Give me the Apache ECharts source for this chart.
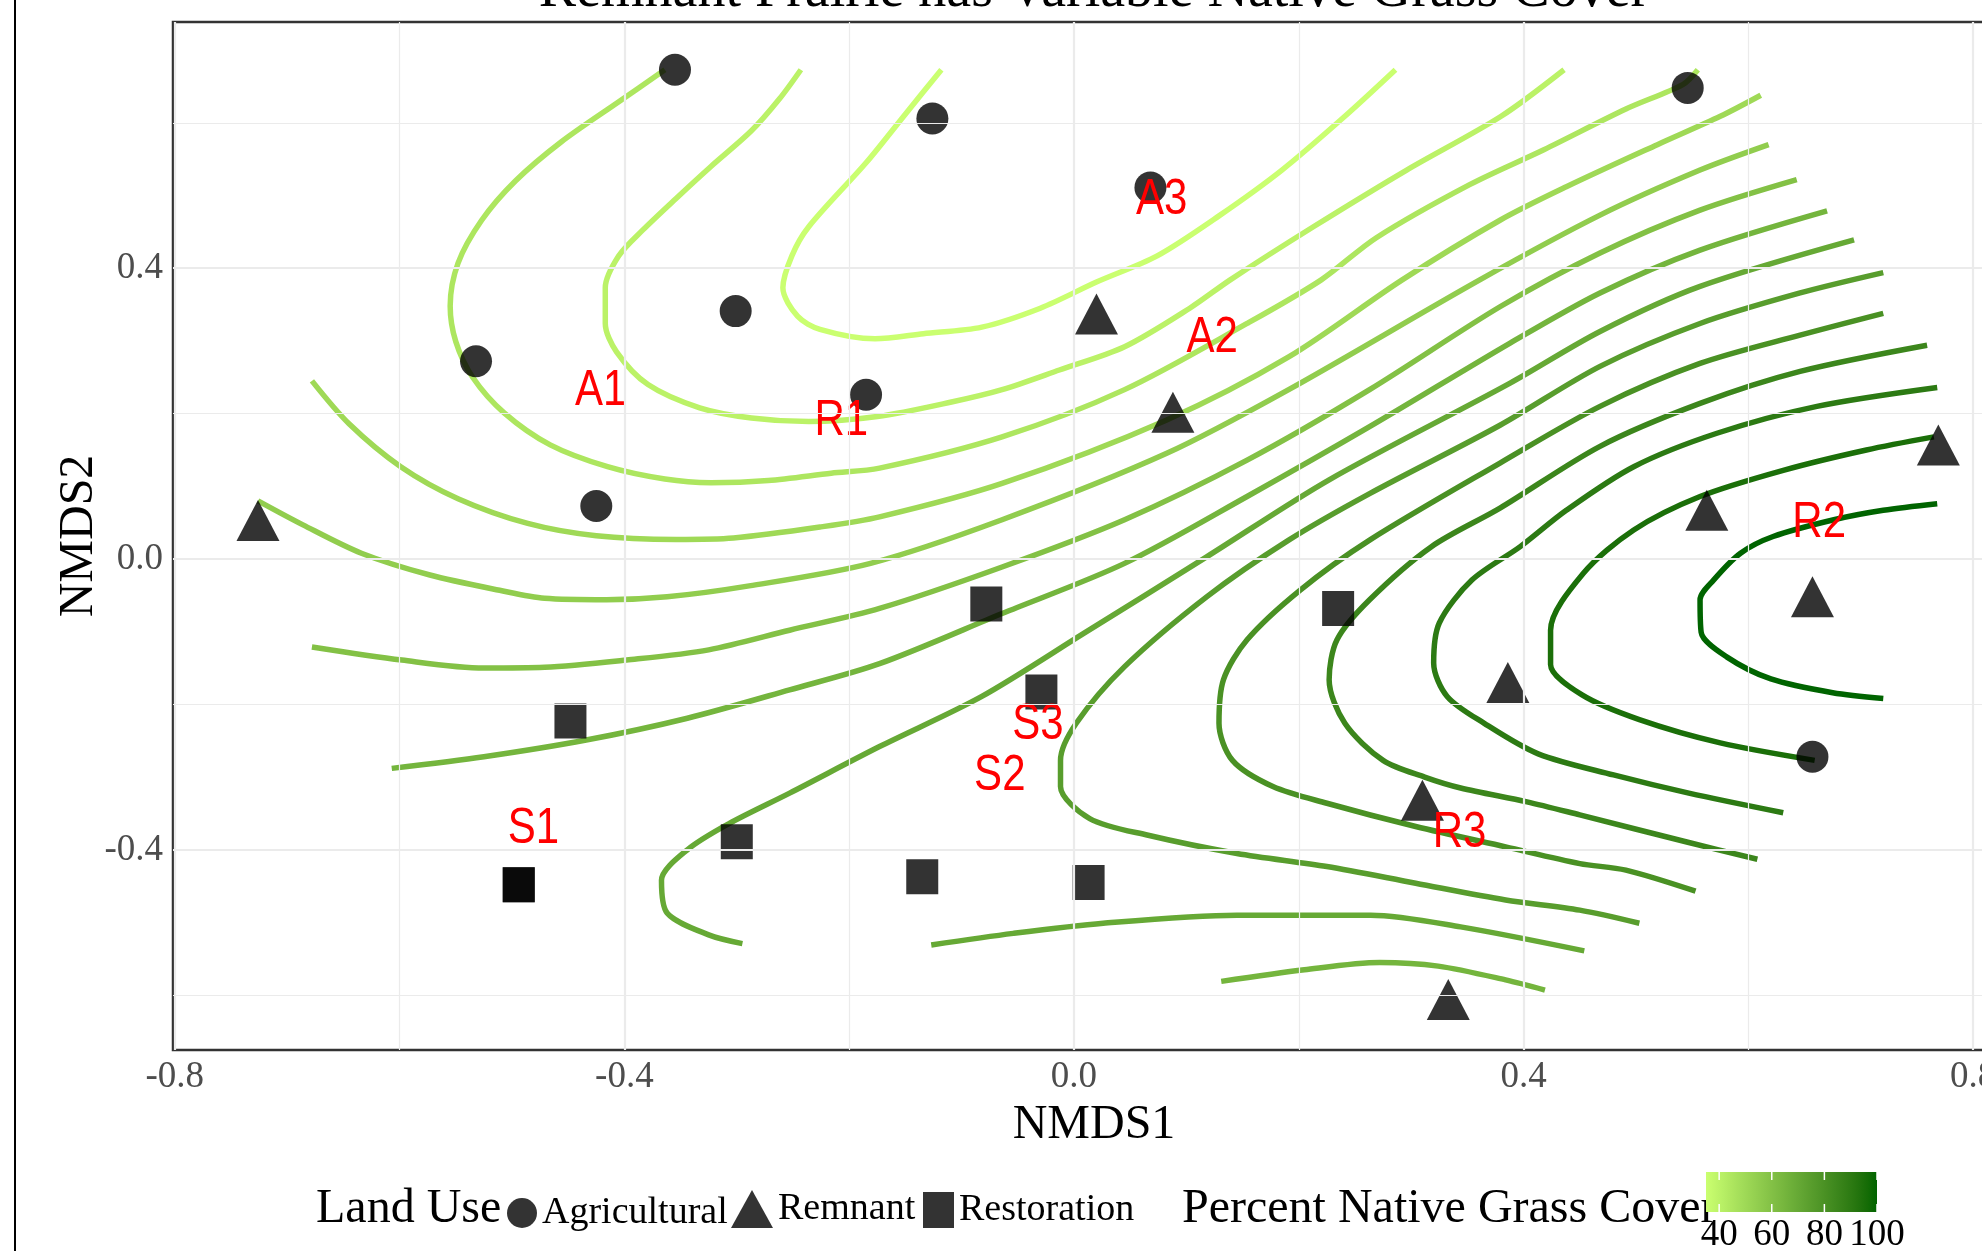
<!DOCTYPE html>
<html>
<head>
<meta charset="utf-8">
<script src="https://cdn.jsdelivr.net/npm/echarts@6/dist/echarts.min.js"></script>
<style>
html, body { margin: 0; padding: 0; background: #ffffff; }
#chart { width: 1982px; height: 1251px; }
</style>
</head>
<body>
<div id="chart"></div>
<script>
// ---- NMDS ordination of plots, with fitted native-grass-cover contours ----

// Axis ticks (major ticks are labelled, minor ones only carry grid lines)
const xMajorTicks = [-0.8, -0.4, 0.0, 0.4, 0.8];
const xMinorTicks = [-0.6, -0.2, 0.2, 0.6];
const yMajorTicks = [-0.4, 0.0, 0.4];
const yMinorTicks = [-0.6, -0.2, 0.2, 0.6];

// Plot scores by land use [NMDS1, NMDS2]
const agriculturalPts = [
  [-0.355, 0.673], [-0.126, 0.606], [0.068, 0.511], [-0.301, 0.341], [-0.532, 0.272],
  [-0.185, 0.226], [-0.425, 0.073], [0.546, 0.648], [0.657, -0.272]
];
const remnantPts = [
  [-0.726, 0.053], [0.020, 0.337], [0.088, 0.202], [0.769, 0.157], [0.563, 0.067],
  [0.657, -0.052], [0.386, -0.170], [0.310, -0.332], [0.333, -0.606]
];
const restorationPts = [
  [-0.078, -0.062], [-0.029, -0.183], [0.235, -0.068], [-0.448, -0.223], [-0.300, -0.389],
  [-0.494, -0.448], [-0.494, -0.448], [-0.135, -0.437], [0.013, -0.445]
];

// Site labels
const siteNames = ['A1', 'R1', 'A3', 'A2', 'R2', 'S3', 'S2', 'S1', 'R3'];
const siteX = [-0.421, -0.207, 0.078, 0.123, 0.663, -0.032, -0.066, -0.481, 0.343];
const siteY = [0.231, 0.189, 0.493, 0.304, 0.049, -0.228, -0.299, -0.372, -0.377];

// Contour paths of percent native grass cover (ordisurf fit)
const cover35 = [[-0.118,0.673],[-0.149,0.614],[-0.185,0.545],[-0.236,0.457],[-0.251,0.417],[-0.259,0.373],[-0.246,0.334],[-0.226,0.316],[-0.177,0.303],[-0.134,0.310],[-0.082,0.319],[-0.030,0.345],[0.020,0.381],[0.074,0.417],[0.129,0.472],[0.185,0.535],[0.241,0.609],[0.286,0.673]];
const cover40 = [[-0.243,0.673],[-0.262,0.633],[-0.287,0.589],[-0.323,0.540],[-0.354,0.496],[-0.384,0.452],[-0.405,0.417],[-0.417,0.373],[-0.417,0.324],[-0.407,0.285],[-0.379,0.240],[-0.333,0.208],[-0.287,0.194],[-0.236,0.189],[-0.175,0.196],[-0.109,0.216],[-0.064,0.233],[-0.013,0.260],[0.045,0.292],[0.103,0.345],[0.139,0.384],[0.213,0.457],[0.296,0.535],[0.380,0.609],[0.436,0.673]];
const cover45 = [[-0.364,0.673],[-0.405,0.629],[-0.456,0.574],[-0.497,0.520],[-0.527,0.466],[-0.548,0.407],[-0.555,0.348],[-0.550,0.299],[-0.535,0.250],[-0.507,0.201],[-0.466,0.157],[-0.415,0.127],[-0.364,0.110],[-0.323,0.105],[-0.272,0.108],[-0.216,0.118],[-0.173,0.125],[-0.064,0.168],[0.045,0.233],[0.154,0.324],[0.220,0.384],[0.269,0.442],[0.352,0.515],[0.418,0.563],[0.491,0.619],[0.542,0.653],[0.555,0.673]];
const cover50 = [[-0.678,0.245],[-0.645,0.186],[-0.599,0.127],[-0.548,0.083],[-0.486,0.049],[-0.425,0.032],[-0.354,0.027],[-0.303,0.029],[-0.226,0.044],[-0.173,0.058],[-0.064,0.104],[0.082,0.191],[0.191,0.278],[0.292,0.384],[0.379,0.466],[0.438,0.512],[0.519,0.570],[0.575,0.609],[0.611,0.638]];
const cover55 = [[-0.726,0.080],[-0.686,0.047],[-0.634,0.008],[-0.573,-0.022],[-0.511,-0.043],[-0.471,-0.054],[-0.416,-0.056],[-0.362,-0.052],[-0.289,-0.037],[-0.181,-0.006],[-0.064,0.054],[0.082,0.145],[0.191,0.233],[0.361,0.384],[0.468,0.473],[0.557,0.535],[0.618,0.570]];
const cover60 = [[-0.678,-0.121],[-0.598,-0.139],[-0.525,-0.150],[-0.471,-0.149],[-0.398,-0.139],[-0.325,-0.125],[-0.253,-0.098],[-0.173,-0.068],[-0.064,-0.011],[0.045,0.054],[0.154,0.136],[0.263,0.233],[0.379,0.347],[0.468,0.421],[0.557,0.480],[0.643,0.522]];
const cover65 = [[-0.607,-0.288],[-0.525,-0.272],[-0.434,-0.249],[-0.344,-0.219],[-0.253,-0.180],[-0.173,-0.144],[-0.064,-0.075],[0.045,-0.006],[0.154,0.086],[0.263,0.182],[0.388,0.297],[0.468,0.366],[0.557,0.425],[0.670,0.479]];
const cover70 = [[-0.295,-0.529],[-0.325,-0.517],[-0.362,-0.487],[-0.367,-0.442],[-0.344,-0.400],[-0.307,-0.364],[-0.253,-0.322],[-0.173,-0.258],[-0.082,-0.189],[0.009,-0.102],[0.118,0.003],[0.227,0.109],[0.388,0.242],[0.468,0.313],[0.557,0.375],[0.694,0.439]];
const cover75 = [[0.720,0.394],[0.646,0.366],[0.557,0.324],[0.468,0.265],[0.379,0.184],[0.263,0.090],[0.191,0.026],[0.118,-0.052],[0.045,-0.148],[0.002,-0.226],[-0.012,-0.277],[-0.012,-0.313],[0.014,-0.357],[0.066,-0.380],[0.145,-0.405],[0.225,-0.423],[0.304,-0.446],[0.384,-0.469],[0.450,-0.483],[0.503,-0.501]];
const cover80 = [[0.720,0.338],[0.646,0.308],[0.557,0.269],[0.468,0.210],[0.379,0.132],[0.263,0.026],[0.201,-0.043],[0.154,-0.111],[0.133,-0.166],[0.129,-0.226],[0.141,-0.277],[0.177,-0.313],[0.225,-0.336],[0.304,-0.368],[0.384,-0.396],[0.450,-0.419],[0.491,-0.428],[0.553,-0.457]];
const cover85 = [[0.759,0.294],[0.646,0.258],[0.557,0.214],[0.468,0.155],[0.379,0.070],[0.318,0.017],[0.263,-0.056],[0.234,-0.111],[0.227,-0.166],[0.241,-0.226],[0.275,-0.277],[0.312,-0.300],[0.344,-0.315],[0.403,-0.334],[0.450,-0.352],[0.547,-0.390],[0.608,-0.413]];
const cover90 = [[0.768,0.236],[0.661,0.210],[0.572,0.173],[0.498,0.127],[0.438,0.067],[0.397,0.017],[0.354,-0.029],[0.325,-0.088],[0.320,-0.143],[0.332,-0.189],[0.365,-0.226],[0.413,-0.268],[0.480,-0.297],[0.547,-0.322],[0.631,-0.349]];
const cover95 = [[0.765,0.168],[0.705,0.150],[0.631,0.122],[0.557,0.086],[0.498,0.040],[0.453,-0.020],[0.424,-0.098],[0.424,-0.145],[0.452,-0.187],[0.503,-0.221],[0.575,-0.253],[0.659,-0.277]];
const cover100 = [[0.768,0.076],[0.720,0.067],[0.676,0.054],[0.622,0.031],[0.593,0.008],[0.569,-0.029],[0.557,-0.056],[0.558,-0.101],[0.581,-0.135],[0.620,-0.165],[0.675,-0.184],[0.720,-0.192]];
// Lower arcs near the bottom remnant plot
const cover70Low = [[-0.127,-0.531],[-0.054,-0.515],[0.026,-0.501],[0.145,-0.490],[0.264,-0.490],[0.344,-0.506],[0.454,-0.539]];
const cover65Low = [[0.131,-0.581],[0.205,-0.565],[0.272,-0.555],[0.324,-0.560],[0.384,-0.579],[0.419,-0.593]];

const contourLevels = [35, 40, 45, 50, 55, 60, 65, 70, 75, 80, 85, 90, 95, 100, 70, 65];
const contourPaths = [cover35, cover40, cover45, cover50, cover55, cover60, cover65, cover70,
                      cover75, cover80, cover85, cover90, cover95, cover100, cover70Low, cover65Low];

// Colour scale limits and colorbar tick labels
const coverMin = 35, coverMax = 100;
const coverBarTicks = [40, 60, 80, 100];

// ---- colour ramp interpolated in CIELAB ----
const LOW_COLOR = '#CAFF70', HIGH_COLOR = '#006400';
function hexToRgb(h) { return [1, 3, 5].map(i => parseInt(h.substr(i, 2), 16)); }
function rgbToLab(rgb) {
  const lin = rgb.map(c => { c /= 255; return c <= 0.04045 ? c / 12.92 : Math.pow((c + 0.055) / 1.055, 2.4); });
  const X = (0.4124564 * lin[0] + 0.3575761 * lin[1] + 0.1804375 * lin[2]) / 0.95047;
  const Y = (0.2126729 * lin[0] + 0.7151522 * lin[1] + 0.0721750 * lin[2]);
  const Z = (0.0193339 * lin[0] + 0.1191920 * lin[1] + 0.9503041 * lin[2]) / 1.08883;
  const f = t => t > 0.008856 ? Math.cbrt(t) : 7.787 * t + 16 / 116;
  const fx = f(X), fy = f(Y), fz = f(Z);
  return [116 * fy - 16, 500 * (fx - fy), 200 * (fy - fz)];
}
function labToHex(lab) {
  const fy = (lab[0] + 16) / 116, fx = fy + lab[1] / 500, fz = fy - lab[2] / 200;
  const inv = t => t * t * t > 0.008856 ? t * t * t : (t - 16 / 116) / 7.787;
  const X = inv(fx) * 0.95047, Y = inv(fy), Z = inv(fz) * 1.08883;
  const r = 3.2404542 * X - 1.5371385 * Y - 0.4985314 * Z;
  const g = -0.9692660 * X + 1.8760108 * Y + 0.0415560 * Z;
  const b = 0.0556434 * X - 0.2040259 * Y + 1.0572252 * Z;
  const gam = c => { c = c <= 0.0031308 ? 12.92 * c : 1.055 * Math.pow(c, 1 / 2.4) - 0.055; return Math.round(Math.min(1, Math.max(0, c)) * 255); };
  return '#' + [r, g, b].map(c => gam(c).toString(16).padStart(2, '0')).join('');
}
const labLow = rgbToLab(hexToRgb(LOW_COLOR)), labHigh = rgbToLab(hexToRgb(HIGH_COLOR));
function coverColor(v) {
  const t = (v - coverMin) / (coverMax - coverMin);
  return labToHex(labLow.map((c, i) => c + (labHigh[i] - c) * t));
}

// ---- layout ----
const GRID_LEFT = 173, GRID_TOP = 22, GRID_W = 1842, GRID_H = 1028;
const X_MIN = -0.8016, X_MAX = 0.8372, Y_MIN = -0.6754, Y_MAX = 0.7387;
const SERIF = 'Liberation Serif';
const POINT_FILL = 'rgba(0,0,0,0.8)';

const chart = echarts.init(document.getElementById('chart'), null, { renderer: 'canvas' });

// Panel grid lines drawn as mark lines
const gridLineData = []
  .concat(xMajorTicks.map(v => ({ xAxis: v, lineStyle: { width: 2.2 } })))
  .concat(xMinorTicks.map(v => ({ xAxis: v, lineStyle: { width: 1.2 } })))
  .concat(yMajorTicks.map(v => ({ yAxis: v, lineStyle: { width: 2.2 } })))
  .concat(yMinorTicks.map(v => ({ yAxis: v, lineStyle: { width: 1.2 } })));

const contourSeries = contourPaths.map((path, i) => ({
  type: 'line',
  name: 'cover' + contourLevels[i],
  data: path,
  smooth: 0.3,
  showSymbol: false,
  symbol: 'none',
  silent: true,
  z: 2,
  lineStyle: { color: coverColor(contourLevels[i]), width: 5.5, cap: 'butt', join: 'round' }
}));

// Colorbar
const BAR_X = 1706, BAR_Y = 1172, BAR_W = 171, BAR_H = 40;
const barStops = [];
for (let k = 0; k <= 20; k++) {
  barStops.push({ offset: k / 20, color: coverColor(coverMin + (coverMax - coverMin) * k / 20) });
}
const barX = v => BAR_X + (v - coverMin) / (coverMax - coverMin) * BAR_W;
const barGraphics = [
  { type: 'rect', shape: { x: BAR_X, y: BAR_Y, width: BAR_W, height: BAR_H },
    style: { fill: { type: 'linear', x: 0, y: 0, x2: 1, y2: 0, colorStops: barStops } } }
];
coverBarTicks.forEach(v => {
  const x = barX(v);
  barGraphics.push({ type: 'line', shape: { x1: x, y1: BAR_Y, x2: x, y2: BAR_Y + 8 }, style: { stroke: '#ffffff', lineWidth: 1.5 } });
  barGraphics.push({ type: 'line', shape: { x1: x, y1: BAR_Y + BAR_H - 8, x2: x, y2: BAR_Y + BAR_H }, style: { stroke: '#ffffff', lineWidth: 1.5 } });
  barGraphics.push({ type: 'text', x: x, y: 1235,
    style: { text: String(v), font: '37px "' + SERIF + '"', fill: '#000', align: 'center', verticalAlign: 'middle' } });
});

const legendText = { fontFamily: SERIF, fontSize: 38, color: '#000000' };

const option = {
  animation: false,
  backgroundColor: '#ffffff',
  grid: {
    left: GRID_LEFT, top: GRID_TOP, width: GRID_W, height: GRID_H,
    outerBoundsMode: 'none', containLabel: false,
    show: true, borderColor: '#333333', borderWidth: 2.5, backgroundColor: 'transparent'
  },
  xAxis: {
    type: 'value', min: X_MIN, max: X_MAX,
    name: 'NMDS1', nameLocation: 'middle', nameGap: 47,
    nameTextStyle: { fontFamily: SERIF, fontSize: 48, color: '#000000' },
    axisLine: { show: false },
    axisTick: { show: true, customValues: xMajorTicks, length: 8, lineStyle: { color: '#333333', width: 2 } },
    axisLabel: { customValues: xMajorTicks, formatter: v => v.toFixed(1), margin: 9,
      fontFamily: SERIF, fontSize: 37, color: '#4D4D4D' },
    splitLine: { show: false }
  },
  yAxis: {
    type: 'value', min: Y_MIN, max: Y_MAX,
    axisLine: { show: false },
    axisTick: { show: true, customValues: yMajorTicks, length: 8, lineStyle: { color: '#333333', width: 2 } },
    axisLabel: { customValues: yMajorTicks, formatter: v => v.toFixed(1), margin: 10,
      fontFamily: SERIF, fontSize: 37, color: '#4D4D4D' },
    splitLine: { show: false }
  },
  legend: [
    { data: ['Agricultural'], left: 507, top: 1194, padding: 0, itemWidth: 30, itemHeight: 30,
      icon: 'circle', selectedMode: false, textStyle: legendText },
    { data: ['Remnant'], left: 731, top: 1190, padding: 0, itemWidth: 42, itemHeight: 38,
      icon: 'triangle', symbolKeepAspect: false, selectedMode: false, textStyle: legendText },
    { data: ['Restoration'], left: 923, top: 1191, padding: 0, itemWidth: 31, itemHeight: 36,
      icon: 'rect', symbolKeepAspect: false, selectedMode: false, textStyle: legendText }
  ],
  graphic: [
    { type: 'line', shape: { x1: 15, y1: 0, x2: 15, y2: 1251 }, style: { stroke: '#000000', lineWidth: 2 } },
    { type: 'text', x: 1094, y: -9,
      style: { text: 'Remnant Prairie has Variable Native Grass Cover', font: '56px "' + SERIF + '"',
        fill: '#000000', align: 'center', verticalAlign: 'middle' } },
    { type: 'text', x: 79, y: 536, rotation: Math.PI / 2,
      style: { text: 'NMDS2', font: '48px "' + SERIF + '"', fill: '#000000', align: 'center', verticalAlign: 'middle' } },
    { type: 'text', x: 316, y: 1209,
      style: { text: 'Land Use', font: '48px "' + SERIF + '"', fill: '#000000', align: 'left', verticalAlign: 'middle' } },
    { type: 'text', x: 1182, y: 1209,
      style: { text: 'Percent Native Grass Cover', font: '48px "' + SERIF + '"', fill: '#000000', align: 'left', verticalAlign: 'middle' } }
  ].concat(barGraphics),
  series: [
    {
      type: 'scatter', name: 'gridlines', data: [], silent: true, z: 1,
      markLine: { silent: true, symbol: 'none', label: { show: false }, animation: false,
        lineStyle: { color: '#EBEBEB', type: 'solid' }, data: gridLineData }
    }
  ].concat(contourSeries).concat([
    { type: 'scatter', name: 'Agricultural', data: agriculturalPts, symbol: 'circle', symbolSize: 32,
      itemStyle: { color: POINT_FILL, opacity: 1 }, z: 3 },
    { type: 'scatter', name: 'Remnant', data: remnantPts, symbol: 'triangle', symbolSize: [43, 41],
      itemStyle: { color: POINT_FILL, opacity: 1 }, z: 3 },
    { type: 'scatter', name: 'Restoration', data: restorationPts, symbol: 'rect', symbolSize: [32, 35],
      itemStyle: { color: POINT_FILL, opacity: 1 }, z: 3 },
    {
      type: 'custom', name: 'site labels', z: 4, silent: true,
      data: siteNames.map((s, i) => [siteX[i], siteY[i]]),
      renderItem: function (params, api) {
        const p = api.coord([api.value(0), api.value(1)]);
        return {
          type: 'text', x: p[0], y: p[1], scaleX: 0.84,
          style: { text: siteNames[params.dataIndex], font: '50px "Liberation Sans"', fill: '#FF0000',
            align: 'center', verticalAlign: 'middle' }
        };
      }
    }
  ])
};

chart.setOption(option);
</script>
</body>
</html>
